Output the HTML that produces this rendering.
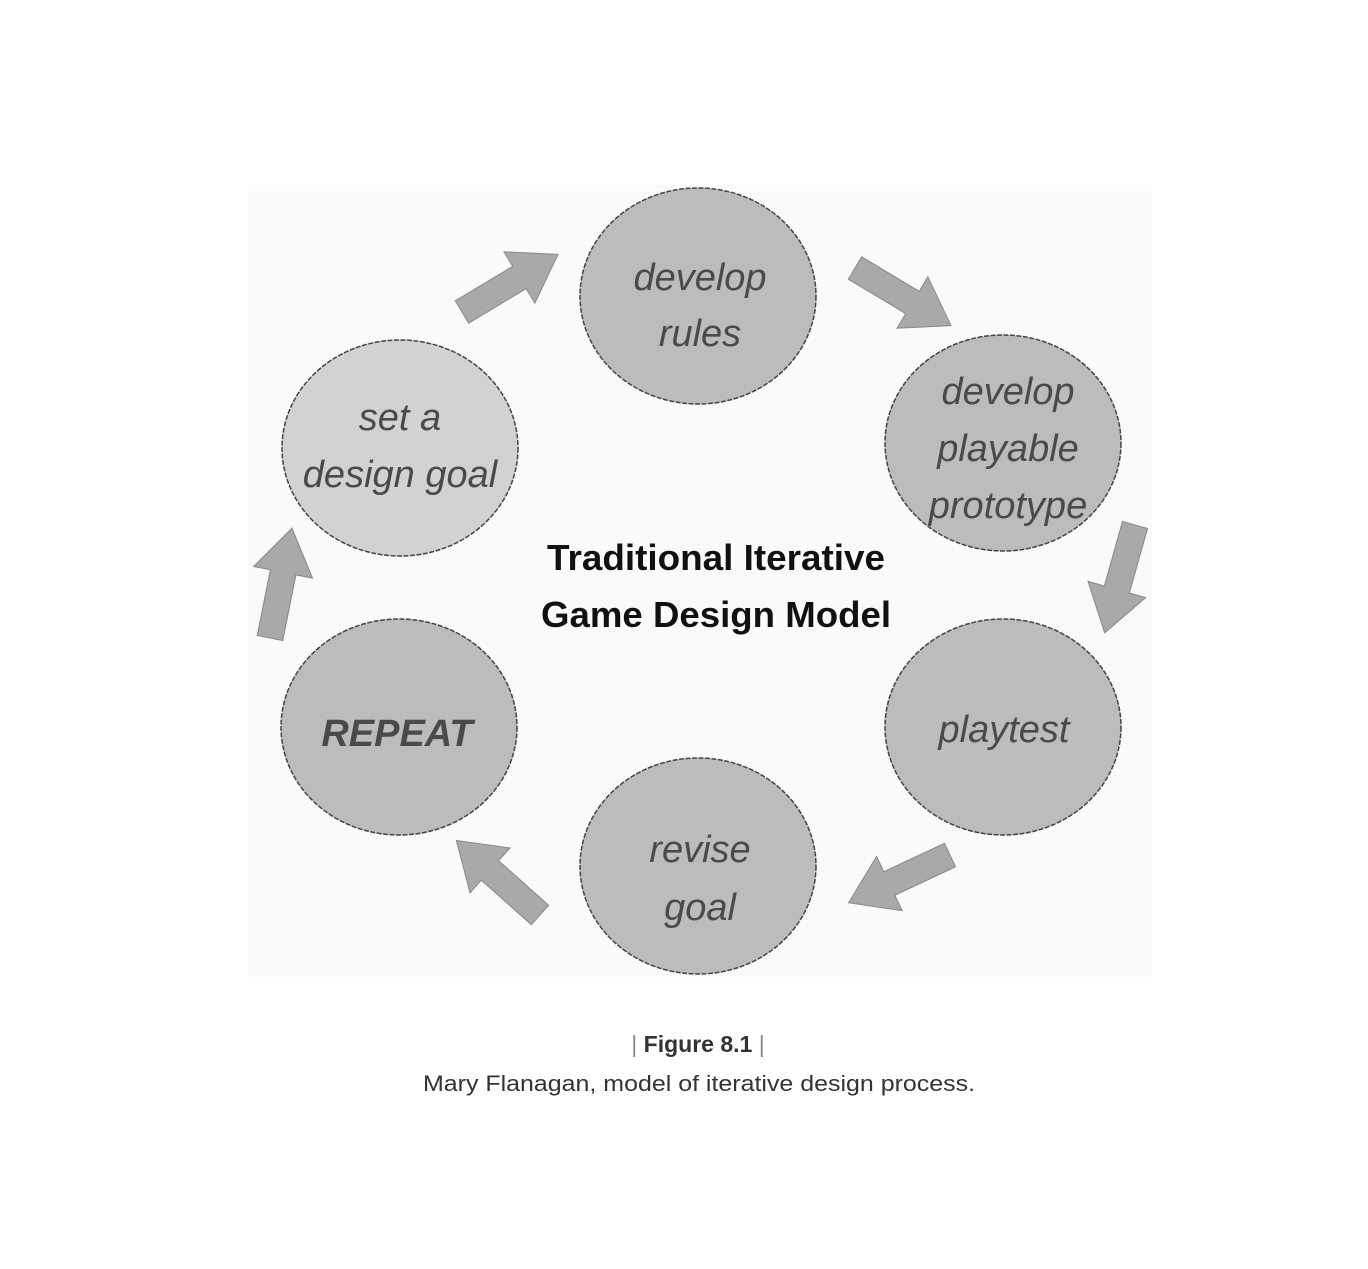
<!DOCTYPE html>
<html><head><meta charset="utf-8"><style>
html,body{margin:0;padding:0;background:#fff;}
</style></head><body>
<svg width="1368" height="1264" viewBox="0 0 1368 1264" xmlns="http://www.w3.org/2000/svg">
<rect x="0" y="0" width="1368" height="1264" fill="#fff"/>
<rect x="248" y="185" width="904" height="792" fill="#fafafa"/>
<g stroke="#444" stroke-width="1.5" stroke-dasharray="5,1.5">
<ellipse cx="698" cy="296" rx="118" ry="108" fill="#bcbcbc"/>
<ellipse cx="400" cy="448" rx="118" ry="108" fill="#d2d2d2"/>
<ellipse cx="1003" cy="443" rx="118" ry="108" fill="#bcbcbc"/>
<ellipse cx="1003" cy="727" rx="118" ry="108" fill="#bcbcbc"/>
<ellipse cx="698" cy="866" rx="118" ry="108" fill="#bcbcbc"/>
<ellipse cx="399" cy="727" rx="118" ry="108" fill="#bcbcbc"/>
</g>
<g fill="#a9a9a9" stroke="#888" stroke-width="1">
<polygon points="0,-13 67,-13 67,-30 112,0 67,30 67,13 0,13" transform="translate(462,312) rotate(-31)"/>
<polygon points="0,-13 67,-13 67,-30 112,0 67,30 67,13 0,13" transform="translate(855,268) rotate(31)"/>
<polygon points="0,-13 67,-13 67,-30 112,0 67,30 67,13 0,13" transform="translate(1135,525) rotate(105.7)"/>
<polygon points="0,-13 67,-13 67,-30 112,0 67,30 67,13 0,13" transform="translate(950,855) rotate(154.8)"/>
<polygon points="0,-13 67,-13 67,-30 112,0 67,30 67,13 0,13" transform="translate(540,915) rotate(221.7)"/>
<polygon points="0,-13 67,-13 67,-30 112,0 67,30 67,13 0,13" transform="translate(270,638) rotate(-78.7)"/>
</g>
<g font-family="Liberation Sans, sans-serif" font-style="italic" font-size="38" fill="#4a4a4a" text-anchor="middle">
<text x="700" y="290">develop</text>
<text x="700" y="346">rules</text>
<text x="400" y="430">set a</text>
<text x="400" y="487">design goal</text>
<text x="1008" y="404">develop</text>
<text x="1008" y="461">playable</text>
<text x="1008" y="518">prototype</text>
<text x="1004" y="742">playtest</text>
<text x="700" y="862">revise</text>
<text x="700" y="920">goal</text>
<text x="397" y="746" font-weight="bold">REPEAT</text>
</g>
<g font-family="Liberation Sans, sans-serif" font-weight="bold" font-size="36" fill="#111" text-anchor="middle">
<text x="716" y="570" textLength="338" lengthAdjust="spacingAndGlyphs">Traditional Iterative</text>
<text x="716" y="627" textLength="350" lengthAdjust="spacingAndGlyphs">Game Design Model</text>
</g>
<g font-family="Liberation Sans, sans-serif" fill="#333" text-anchor="middle">
<text x="698" y="1052" font-size="23"><tspan fill="#888">|</tspan>  <tspan font-weight="bold">Figure 8.1</tspan>  <tspan fill="#888">|</tspan></text>
<text x="699" y="1091" font-size="22" textLength="552" lengthAdjust="spacingAndGlyphs">Mary Flanagan, model of iterative design process.</text>
</g>
</svg>
</body></html>
